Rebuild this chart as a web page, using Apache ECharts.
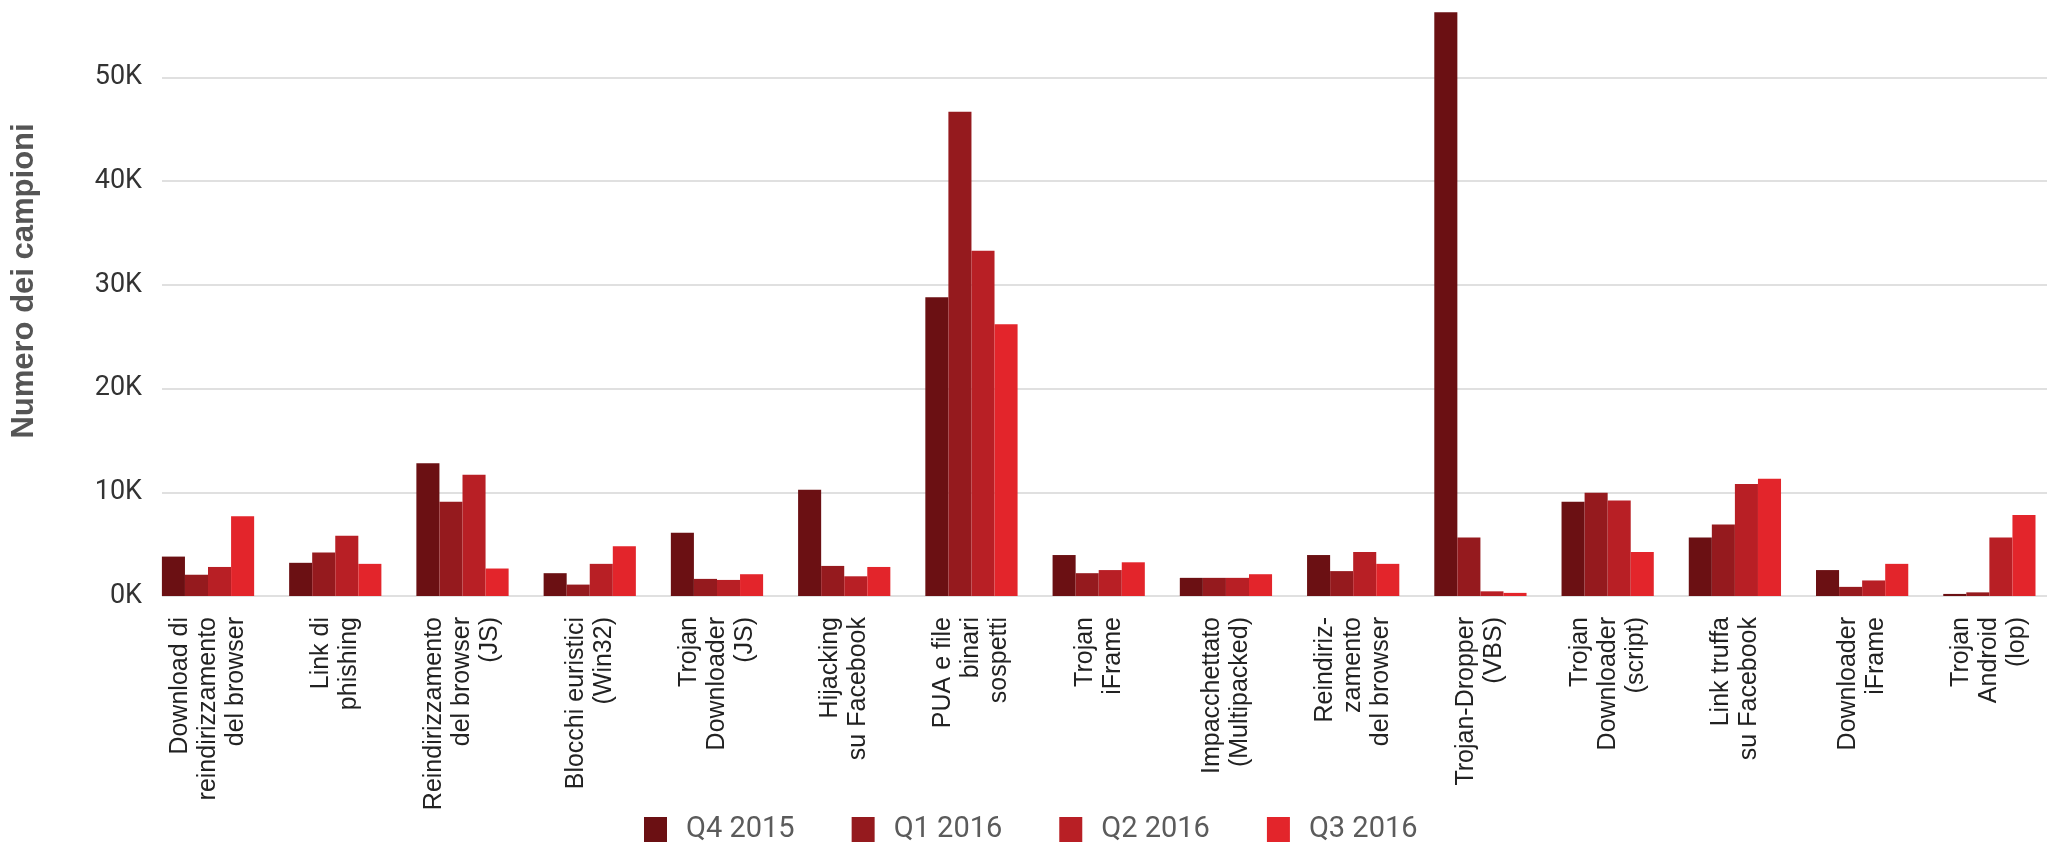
<!DOCTYPE html>
<html>
<head>
<meta charset="utf-8">
<script src="https://cdn.jsdelivr.net/npm/echarts@6/dist/echarts.min.js"></script>
<style>
  html, body { margin: 0; padding: 0; background: #fff; }
  #chart { width: 2053px; height: 862px; }
</style>
</head>
<body>
<div id="chart"></div>
<script>
const categories = [
  "Download di\nreindirizzamento\ndel browser",
  "Link di\nphishing",
  "Reindirizzamento\ndel browser\n(JS)",
  "Blocchi euristici\n(Win32)",
  "Trojan\nDownloader\n(JS)",
  "Hijacking\nsu Facebook",
  "PUA e file\nbinari\nsospetti",
  "Trojan\niFrame",
  "Impacchettato\n(Multipacked)",
  "Reindiriz-\nzamento\ndel browser",
  "Trojan-Dropper\n(VBS)",
  "Trojan\nDownloader\n(script)",
  "Link truffa\nsu Facebook",
  "Downloader\niFrame",
  "Trojan\nAndroid\n(lop)"
];
const seriesNames = ["Q4 2015", "Q1 2016", "Q2 2016", "Q3 2016"];
const q4_2015 = [3800, 3200, 12800, 2200, 6100, 10250, 28800, 3950, 1750, 3950, 56300, 9100, 5650, 2500, 200];
const q1_2016 = [2050, 4200, 9100, 1100, 1650, 2900, 46700, 2200, 1750, 2400, 5650, 9950, 6900, 880, 350];
const q2_2016 = [2800, 5800, 11700, 3100, 1550, 1900, 33300, 2500, 1750, 4250, 450, 9200, 10800, 1500, 5650];
const q3_2016 = [7700, 3100, 2650, 4800, 2100, 2800, 26200, 3250, 2100, 3100, 300, 4250, 11300, 3100, 7800];
// visible tick labels: 0K .. 50K, step 10K
const tickMin = 0;
const tickMax = 50000;
const tickStep = 10000;
// plotted value range of the bar area (top of picture cuts the axis)
const valueMax = 57470;
const yTitle = "Numero dei campioni";

const colors = ["#6b1013", "#951a1e", "#b81f25", "#e3252b"];
const values = [q4_2015, q1_2016, q2_2016, q3_2016];

const chart = echarts.init(document.getElementById('chart'));
const option = {
  animation: false,
  backgroundColor: '#ffffff',
  grid: [
    { left: 144.4, right: -14.4, top: 0, bottom: 266, containLabel: false },
    { left: 162, right: 6, top: 77.5, bottom: 266, containLabel: false }
  ],
  legend: {
    data: seriesNames,
    left: 639,
    top: 810,
    itemWidth: 23,
    itemHeight: 25,
    itemGap: 57,
    icon: 'rect',
    textStyle: {
      fontFamily: 'Roboto',
      fontSize: 29,
      color: '#5b5b5b',
      lineHeight: 25,
      padding: [0, 0, 0, 14]
    }
  },
  xAxis: [
    {
      type: 'category',
      gridIndex: 0,
      data: categories,
      axisLine: { show: false },
      axisTick: { show: false },
      splitLine: { show: false },
      axisLabel: {
        interval: 0,
        rotate: 90,
        margin: 21,
        fontFamily: 'Liberation Sans',
        fontSize: 25,
        lineHeight: 28,
        color: '#222222'
      }
    },
    {
      type: 'value',
      gridIndex: 1,
      min: 0,
      max: 1,
      show: false
    }
  ],
  yAxis: [
    {
      type: 'value',
      gridIndex: 0,
      min: 0,
      max: valueMax,
      axisLine: { show: false },
      axisTick: { show: false },
      axisLabel: { show: false },
      splitLine: { show: false },
      name: yTitle,
      nameLocation: 'middle',
      nameGap: 104,
      nameTextStyle: {
        fontFamily: 'Liberation Sans',
        fontWeight: 'bold',
        fontSize: 31,
        color: '#555555',
        padding: [0, 0, 0, 34]
      }
    },
    {
      type: 'value',
      gridIndex: 1,
      min: tickMin,
      max: tickMax,
      interval: tickStep,
      axisLine: { show: false },
      axisTick: { show: false },
      axisLabel: {
        margin: 20,
        fontFamily: 'Roboto',
        fontSize: 27,
        color: '#333333',
        formatter: function (v) { return (v / 1000) + 'K'; }
      },
      splitLine: { show: true, lineStyle: { color: '#e0e0e0', width: 2 } }
    }
  ],
  series: seriesNames.map(function (name, i) {
    return {
      name: name,
      type: 'bar',
      xAxisIndex: 0,
      yAxisIndex: 0,
      data: values[i],
      barGap: '0%',
      barCategoryGap: '27.5%',
      itemStyle: { color: colors[i] }
    };
  })
};
chart.setOption(option);
</script>
</body>
</html>
